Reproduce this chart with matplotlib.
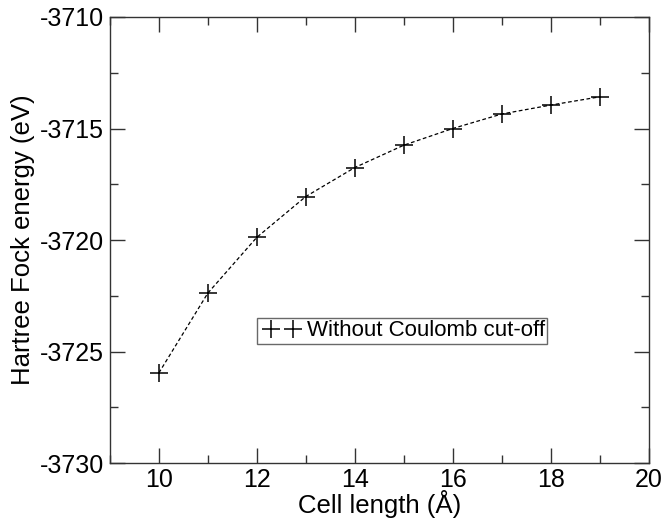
import matplotlib
matplotlib.use("Agg")
import matplotlib.pyplot as plt
from matplotlib.lines import Line2D
from matplotlib.legend_handler import HandlerLine2D
from matplotlib.ticker import MultipleLocator

cell_length = [10, 11, 12, 13, 14, 15, 16, 17, 18, 19]
hf_energy = [-3725.96, -3722.38, -3719.88, -3718.05, -3716.75, -3715.75,
             -3715.00, -3714.35, -3713.95, -3713.58]
series_label = "Without Coulomb cut-off"

plt.rcParams['font.family'] = ['Liberation Sans', 'DejaVu Sans']
plt.rcParams['axes.unicode_minus'] = False

fig = plt.figure(figsize=(6.66, 5.23), dpi=100)
ax = fig.add_axes([0.165, 0.1147, 0.809, 0.8528])

ax.plot(cell_length, hf_energy, color='black', linestyle=(0, (3, 2)), linewidth=0.9,
        marker='+', markersize=12.5, markeredgewidth=1.1)

ax.set_xlim(9, 20)
ax.set_ylim(-3730, -3710)
ax.xaxis.set_major_locator(MultipleLocator(2))
ax.xaxis.set_minor_locator(MultipleLocator(1))
ax.yaxis.set_major_locator(MultipleLocator(5))
ax.yaxis.set_minor_locator(MultipleLocator(2.5))
ax.tick_params(which='both', direction='in', top=True, right=True,
               color='#333333', width=1)
ax.tick_params(which='major', length=11, labelsize=18)
ax.tick_params(axis='x', which='major', pad=3.5)
ax.tick_params(axis='y', which='major', pad=4)
ax.tick_params(which='minor', length=5.5)
for s in ax.spines.values():
    s.set_color('#333333')
    s.set_linewidth(1)

ax.set_xlabel("Cell length (Å)", fontsize=18.5, labelpad=-1)
ax.set_ylabel("Hartree Fock energy (eV)", fontsize=18.5, labelpad=4)

handle = Line2D([], [], color='black', linestyle='none', marker='+',
                markersize=13, markeredgewidth=1.1)
leg = ax.legend([handle], [series_label], loc='center', bbox_to_anchor=(0.542, 0.296),
                fontsize=16, frameon=True, fancybox=False,
                handler_map={handle: HandlerLine2D(numpoints=2, marker_pad=0.55)},
                handlelength=2.07, handletextpad=0.1, borderpad=0.1,
                borderaxespad=0)
leg.get_frame().set_edgecolor('#444444')
leg.get_frame().set_linewidth(1)

fig.savefig("out.png", dpi=100)
